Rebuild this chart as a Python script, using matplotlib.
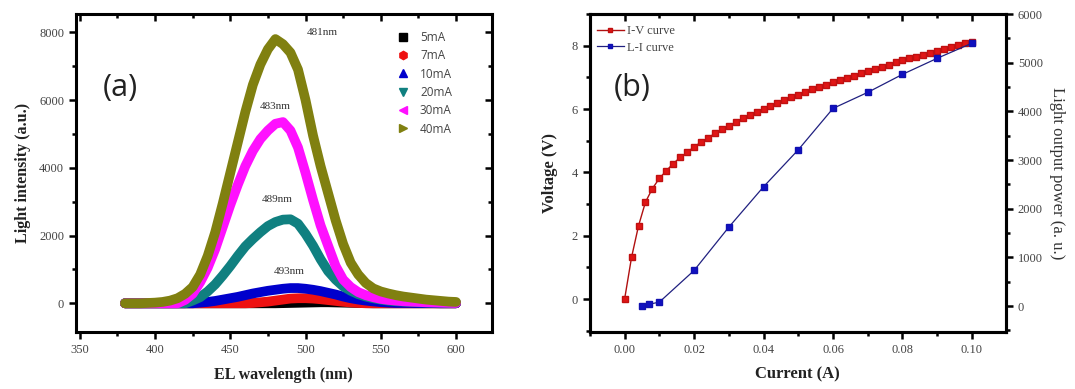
import matplotlib
matplotlib.use('Agg')
import matplotlib.pyplot as plt
from matplotlib.lines import Line2D
from matplotlib.ticker import MultipleLocator, FormatStrFormatter

# ---- (a) EL spectra, every 5 nm ----
wavelength = list(range(380, 605, 5))

spec_5mA = [0]*21 + [5, 10, 15, 20, 25, 30, 30, 25, 20, 15, 10, 5] + [0]*12
spec_7mA = [0]*17 + [10, 30, 50, 80, 110, 140, 150, 150, 140, 120, 95, 70, 45, 25, 10] + [0]*13
spec_10mA = [0]*10 + [20, 40, 70, 110, 150, 190, 240, 290, 330, 370, 400, 430, 450, 450,
                      430, 400, 360, 310, 260, 200, 150, 110, 80, 55, 35, 20,
                      10, 10, 10, 5, 5, 5, 0, 0, 0]
spec_20mA = [0]*9 + [80, 180, 350, 560, 820, 1100, 1400, 1680, 1900, 2100, 2280, 2400, 2470, 2480,
                     2350, 2050, 1700, 1300, 950, 700, 500, 370, 270, 200, 150, 110, 80, 60,
                     50, 40, 30, 25, 20, 15, 10, 10]
spec_30mA = [0]*8 + [100, 280, 620, 1050, 1600, 2250, 2900, 3500, 4050, 4500, 4850, 5100, 5300, 5350,
                     5100, 4600, 3850, 3050, 2300, 1700, 1100, 700, 480, 330, 240, 180, 130, 100,
                     80, 60, 50, 40, 30, 25, 20, 15, 10]
spec_40mA = [0, 0, 0, 10, 20, 40, 80, 150, 280, 480, 850, 1400, 2100, 2950, 3850, 4750, 5650,
             6450, 7050, 7500, 7800, 7650, 7400, 6900, 6000, 4950, 4050, 3250, 2450, 1750,
             1200, 850, 600, 440, 350, 290, 240, 200, 170, 140, 110, 90, 70, 50, 40]

currents = ['5mA', '7mA', '10mA', '20mA', '30mA', '40mA']
spectra = [spec_5mA, spec_7mA, spec_10mA, spec_20mA, spec_30mA, spec_40mA]
spec_colors = ['#000000', '#ee1111', '#0000cc', '#108080', '#ff10ff', '#808010']
spec_markers = ['s', 'h', '^', 'v', '<', '>']

peak_labels = ['481nm', '483nm', '489nm', '493nm']
peak_label_x = [511, 480, 481, 489]
peak_label_y = [8000, 5800, 3050, 930]

# ---- (b) I-V and L-I curves ----
iv_current = [round(0.002*i, 3) for i in range(51)]
iv_voltage = [0.0, 1.32, 2.31, 3.06, 3.49, 3.81, 4.05, 4.28, 4.47, 4.63, 4.81,
              4.95, 5.09, 5.23, 5.36, 5.47, 5.59, 5.71, 5.81, 5.91, 6.00,
              6.09, 6.18, 6.28, 6.37, 6.45, 6.54, 6.62, 6.69, 6.77, 6.84,
              6.92, 6.98, 7.05, 7.13, 7.20, 7.26, 7.34, 7.40, 7.47, 7.54,
              7.60, 7.65, 7.72, 7.78, 7.83, 7.89, 7.96, 8.02, 8.07, 8.13]

li_current = [0.005, 0.007, 0.010, 0.020, 0.030, 0.040, 0.050, 0.060, 0.070, 0.080, 0.090, 0.100]
li_power = [0, 35, 80, 730, 1620, 2450, 3210, 4060, 4390, 4760, 5090, 5400]

serif = 'Liberation Serif'
tick_gray = '#444444'

fig = plt.figure(figsize=(10.75, 3.89), dpi=100)
ax1 = fig.add_axes([0.0707, 0.1473, 0.3867, 0.8167])
ax2 = fig.add_axes([0.5484, 0.1473, 0.3874, 0.8167])
ax3 = ax2.twinx()


def style_ticks(ax):
    for s in ax.spines.values():
        s.set_linewidth(2.2)
    ax.tick_params(which='both', direction='out', width=1.8, labelsize=9,
                   labelcolor=tick_gray)
    ax.tick_params(which='major', length=5)
    ax.tick_params(which='minor', length=3)
    for lab in ax.get_xticklabels() + ax.get_yticklabels():
        lab.set_fontfamily(serif)


def inner_ticks(sec, axis, major, minor):
    # mirrored ticks pointing into the frame, no labels
    axis.set_major_locator(MultipleLocator(major))
    axis.set_minor_locator(MultipleLocator(minor))
    sec.tick_params(which='both', direction='in', width=1.8, labelleft=False,
                    labelright=False, labeltop=False, labelbottom=False)
    sec.tick_params(which='major', length=5)
    sec.tick_params(which='minor', length=3)


# panel (a)
for name, y, c in zip(currents, spectra, spec_colors):
    ax1.plot(wavelength, y, color=c, lw=7, solid_capstyle='round', solid_joinstyle='round')

for t, x, y in zip(peak_labels, peak_label_x, peak_label_y):
    ax1.text(x, y, t, fontsize=8, family=serif, color='#333333', ha='center', va='center')

ax1.text(377, 6350, '(a)', fontsize=22, family='Open Sans', color='#222222',
         ha='center', va='center')

ax1.set_xlim(347.5, 623.7)
ax1.set_ylim(-838, 8540)
ax1.xaxis.set_major_locator(MultipleLocator(50))
ax1.xaxis.set_minor_locator(MultipleLocator(25))
ax1.yaxis.set_major_locator(MultipleLocator(2000))
ax1.yaxis.set_minor_locator(MultipleLocator(1000))
style_ticks(ax1)
top1 = ax1.secondary_xaxis('top')
inner_ticks(top1, top1.xaxis, 50, 25)
right1 = ax1.secondary_yaxis('right')
inner_ticks(right1, right1.yaxis, 2000, 1000)
ax1.set_xlabel('EL wavelength (nm)', family=serif, fontweight='bold', fontsize=11.5,
               labelpad=8, color='#222222')
ax1.set_ylabel('Light intensity (a.u.)', family=serif, fontweight='bold', fontsize=11.5,
               labelpad=6, color='#222222')

handles = [Line2D([], [], ls='none', marker=m, color=c, markersize=6)
           for c, m in zip(spec_colors, spec_markers)]
ax1.legend(handles, currents, loc='upper right', bbox_to_anchor=(0.93, 0.98), frameon=False,
           prop={'family': 'Open Sans', 'size': 8.5}, labelcolor='#444444',
           handletextpad=0.8, labelspacing=0.45, handlelength=1.2)

# panel (b)
l1, = ax2.plot(iv_current, iv_voltage, color='#b01010', lw=1, marker='s', markersize=5,
               markerfacecolor='#e01515', markeredgecolor='#c01010', label='I-V curve')
l2, = ax3.plot(li_current, li_power, color='#202080', lw=0.9, marker='s', markersize=5,
               markerfacecolor='#1010c0', markeredgecolor='#1010b0', label='L-I curve')

ax2.text(0.0021, 6.67, '(b)', fontsize=22, family='Open Sans', color='#222222',
         ha='center', va='center')

ax2.set_xlim(-0.0101, 0.1098)
ax2.set_ylim(-1.03, 9.0)
ax3.set_ylim(-528, 6000)
ax2.xaxis.set_major_locator(MultipleLocator(0.02))
ax2.xaxis.set_minor_locator(MultipleLocator(0.01))
ax2.yaxis.set_major_locator(MultipleLocator(2))
ax2.yaxis.set_minor_locator(MultipleLocator(1))
ax3.yaxis.set_major_locator(MultipleLocator(1000))
ax3.yaxis.set_minor_locator(MultipleLocator(500))
ax2.xaxis.set_major_formatter(FormatStrFormatter('%.2f'))
style_ticks(ax2)
style_ticks(ax3)
top2 = ax2.secondary_xaxis('top')
inner_ticks(top2, top2.xaxis, 0.02, 0.01)
ax2.set_xlabel('Current (A)', family=serif, fontweight='bold', fontsize=12,
               labelpad=8, color='#222222')
ax2.set_ylabel('Voltage (V)', family=serif, fontweight='bold', fontsize=12,
               labelpad=10, color='#222222')
ax3.set_ylabel('Light output power (a. u.)', family=serif, fontsize=12, rotation=270,
               labelpad=16, color='#333333')

ax2.legend([l1, l2], ['I-V curve', 'L-I curve'], loc='upper left', bbox_to_anchor=(-0.01, 1.0),
           frameon=False, prop={'family': serif, 'size': 9}, labelcolor='#444444',
           handlelength=2.2, handletextpad=0.2, labelspacing=0.35, markerscale=0.7)

fig.savefig('out.png', dpi=100)
